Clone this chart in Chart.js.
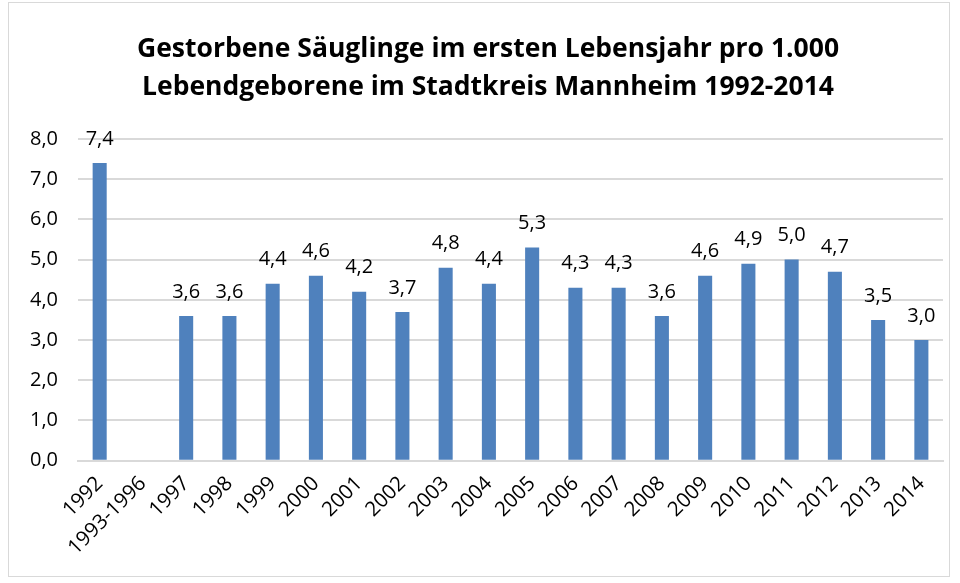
<!DOCTYPE html>
<html>
<head>
<meta charset="utf-8">
<script src="https://cdn.jsdelivr.net/npm/chart.js@4/dist/chart.umd.min.js"></script>
<style>
	html, body { margin: 0; padding: 0; background: #fff; }
	#wrap { position: absolute; left: 8px; top: 2px; width: 942px; height: 575px; border: 1px solid #d9d9d9; box-sizing: border-box; }
	canvas { display: block; }
</style>
</head>
<body>
<div id="wrap"><canvas id="myChart"></canvas></div>
<script>
var labels = ["1992", "1993-1996", "1997", "1998", "1999", "2000", "2001", "2002", "2003", "2004", "2005", "2006", "2007", "2008", "2009", "2010", "2011", "2012", "2013", "2014"];
var values = [7.4, null, 3.6, 3.6, 4.4, 4.6, 4.2, 3.7, 4.8, 4.4, 5.3, 4.3, 4.3, 3.6, 4.6, 4.9, 5.0, 4.7, 3.5, 3.0];
var titleLines = ["Gestorbene Säuglinge im ersten Lebensjahr pro 1.000", "Lebendgeborene im Stadtkreis Mannheim 1992-2014"];

function fmt(v) {
	return v.toFixed(1).replace(".", ",");
}

// draws the value above each bar
var barLabels = {
	id: 'barLabels',
	afterDatasetsDraw: function(chart) {
		var ctx = chart.ctx;
		var meta = chart.getDatasetMeta(0);
		ctx.save();
		ctx.font = '20px "Open Sans", sans-serif';
		ctx.fillStyle = '#000';
		ctx.textAlign = 'center';
		ctx.textBaseline = 'middle';
		meta.data.forEach(function(bar, i) {
			if (values[i] == null) return;
			ctx.fillText(fmt(values[i]), bar.x, bar.y - 24);
		});
		ctx.restore();
	}
};

// title drawn by hand, it sits a little right of the canvas centre
var chartTitle = {
	id: 'chartTitle',
	afterDraw: function(chart) {
		var ctx = chart.ctx;
		ctx.save();
		ctx.font = 'bold 26.5px "Open Sans", sans-serif';
		ctx.fillStyle = '#000';
		ctx.textAlign = 'center';
		ctx.textBaseline = 'alphabetic';
		for (var i = 0; i < titleLines.length; i++) {
			ctx.fillText(titleLines[i], chart.width / 2 + 9, 54 + i * 38);
		}
		ctx.restore();
	}
};

var ctx = document.getElementById("myChart");
var myChart = new Chart(ctx, {
	type: 'bar',
	data: {
		labels: labels,
		datasets: [{
			data: values,
			backgroundColor: '#4f81bd',
			barPercentage: 0.65,
			categoryPercentage: 0.5
		}]
	},
	options: {
		responsive: true,
		maintainAspectRatio: false,
		animation: false,
		layout: { padding: { left: 1, right: 6, top: 136, bottom: 13 } },
		plugins: {
			legend: { display: false },
			tooltip: { enabled: false },
			title: { display: false }
		},
		scales: {
			x: {
				grid: { display: false },
				border: { color: '#d9d9d9', width: 2 },
				ticks: {
					color: '#000',
					font: { family: '"Open Sans", sans-serif', size: 20.5 },
					maxRotation: 45,
					minRotation: 45,
					autoSkip: false
				},
				// the rotated first label should not push the plot to the right
				afterFit: function(scale) {
					scale.paddingLeft = 0;
				}
			},
			y: {
				min: 0,
				max: 8,
				ticks: {
					stepSize: 1,
					color: '#000',
					padding: 20,
					font: { family: '"Open Sans", sans-serif', size: 20 },
					callback: function(v) { return fmt(v); }
				},
				grid: { color: '#d9d9d9', lineWidth: 2, drawTicks: false },
				border: { display: false }
			}
		}
	},
	plugins: [barLabels, chartTitle]
});
</script>
</body>
</html>
